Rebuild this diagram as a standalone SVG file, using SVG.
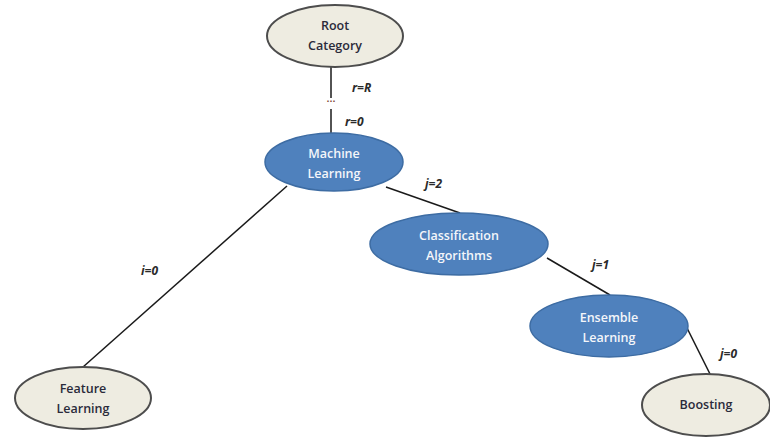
<svg xmlns="http://www.w3.org/2000/svg" width="770" height="438" viewBox="0 0 770 438">
  <style>
    .leaf { fill: #eeece1; stroke: #4d4d4d; stroke-width: 2; }
    .inner { fill: #4f81bd; stroke: #3d6ca3; stroke-width: 1.5; }
    .edge { stroke: #1a1a1a; stroke-width: 1.5; fill: none; }
    text { font-family: "Open Sans", "Liberation Sans", sans-serif; font-size: 12.5px; font-weight: 600; text-anchor: middle; }
    .dark { fill: #2a2a3a; }
    .light { fill: #f4f6fa; }
    .lbl { font-style: italic; font-weight: bold; fill: #2a2a2a; font-size: 12px; text-anchor: start; }
  </style>
  <rect width="770" height="438" fill="#ffffff"/>

  <g id="connectors">
    <line class="edge" x1="331" y1="66" x2="331" y2="98"/>
    <line class="edge" x1="331" y1="109" x2="331" y2="133"/>
    <line class="edge" x1="287" y1="186" x2="83" y2="367"/>
    <line class="edge" x1="386" y1="187" x2="460" y2="213"/>
    <line class="edge" x1="547" y1="258" x2="610" y2="295"/>
    <line class="edge" x1="687" y1="328" x2="710" y2="374"/>
    <text x="331" y="105" style="font-size:11px;fill:#7a3b2e">···</text>
    <text class="lbl" x="352" y="92">r=R</text>
    <text class="lbl" x="345" y="126">r=0</text>
    <text class="lbl" x="425" y="188">j=2</text>
    <text class="lbl" x="141" y="275">i=0</text>
    <text class="lbl" x="592" y="269">j=1</text>
    <text class="lbl" x="720" y="358">j=0</text>
  </g>

  <g id="root-category">
    <ellipse class="leaf" cx="335" cy="36" rx="68" ry="31"/>
    <text class="dark" x="335" y="30">Root</text>
    <text class="dark" x="335" y="50">Category</text>
  </g>

  <g id="machine-learning">
    <ellipse class="inner" cx="334" cy="162" rx="69" ry="29"/>
    <text class="light" x="334" y="158">Machine</text>
    <text class="light" x="334" y="178">Learning</text>
  </g>

  <g id="classification-algorithms">
    <ellipse class="inner" cx="459" cy="244" rx="89" ry="31"/>
    <text class="light" x="459" y="240">Classification</text>
    <text class="light" x="459" y="260">Algorithms</text>
  </g>

  <g id="ensemble-learning">
    <ellipse class="inner" cx="609" cy="326" rx="79" ry="31"/>
    <text class="light" x="609" y="322">Ensemble</text>
    <text class="light" x="609" y="342">Learning</text>
  </g>

  <g id="feature-learning">
    <ellipse class="leaf" cx="83" cy="398" rx="68" ry="31"/>
    <text class="dark" x="83" y="393">Feature</text>
    <text class="dark" x="83" y="413">Learning</text>
  </g>

  <g id="boosting">
    <ellipse class="leaf" cx="706" cy="405" rx="64" ry="31"/>
    <text class="dark" x="706" y="409">Boosting</text>
  </g>
</svg>
